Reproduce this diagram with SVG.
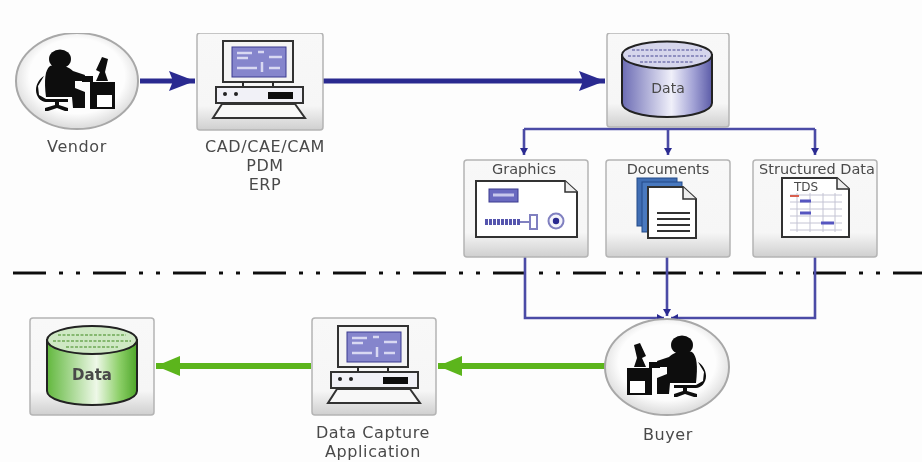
<svg xmlns="http://www.w3.org/2000/svg" width="922" height="462" viewBox="0 0 922 462">
<style>
text{font-family:"DejaVu Sans","Liberation Sans",sans-serif;fill:#4a4a4a;text-anchor:middle;font-size:16px;letter-spacing:.6px}
.box{fill:url(#boxg);stroke:#b4b4b4;stroke-width:1.5}
.oval{fill:url(#ovalg);stroke:#a8a8a8;stroke-width:2}
.blue{fill:none;stroke:#2a2a90;stroke-width:5}
.thin{fill:none;stroke:#4b4ba6;stroke-width:2.6}
.green{fill:none;stroke:#5cb51a;stroke-width:6}
.k{fill:#0c0c0c}
.ln{fill:none;stroke:#2c2c2c;stroke-width:2}
.doc{fill:#fff;stroke:#333;stroke-width:2}
.sm{font-size:14.5px;letter-spacing:0}
</style>
<defs>
<filter id="soft" x="0" y="0" width="100%" height="100%"><feGaussianBlur stdDeviation="0.7"/></filter>
<linearGradient id="boxg" x1="0" y1="0" x2="0" y2="1"><stop offset="0" stop-color="#f8f8f8"/><stop offset="0.75" stop-color="#f6f6f6"/><stop offset="1" stop-color="#cfcfcf"/></linearGradient>
<radialGradient id="ovalg" cx="0.5" cy="0.45" r="0.6"><stop offset="0.65" stop-color="#fdfdfd"/><stop offset="1" stop-color="#cfcfcf"/></radialGradient>
<linearGradient id="cylb" x1="0" y1="0" x2="1" y2="0"><stop offset="0" stop-color="#6c6cb4"/><stop offset="0.55" stop-color="#f0f0fa"/><stop offset="0.8" stop-color="#a0a0d4"/><stop offset="1" stop-color="#5c5ca8"/></linearGradient>
<linearGradient id="cylg" x1="0" y1="0" x2="1" y2="0"><stop offset="0" stop-color="#62b83e"/><stop offset="0.55" stop-color="#eef8e8"/><stop offset="0.8" stop-color="#8ed06a"/><stop offset="1" stop-color="#4ea62a"/></linearGradient>
<marker id="hb" markerUnits="userSpaceOnUse" markerWidth="27" markerHeight="22" refX="26" refY="11" orient="auto"><path d="M0 1 L26 11 L0 21 L4 11Z" fill="#2a2a90"/></marker>
<marker id="hg" markerUnits="userSpaceOnUse" markerWidth="25" markerHeight="22" refX="24" refY="11" orient="auto"><path d="M0 1 L24 11 L0 21Z" fill="#5cb51a"/></marker>
<marker id="ht" markerUnits="userSpaceOnUse" markerWidth="8" markerHeight="8" refX="7" refY="4" orient="auto"><path d="M0 0 L7 4 L0 8Z" fill="#2a2a90"/></marker>
<g id="person">
<ellipse class="k" cx="60" cy="59" rx="11" ry="9.5"/>
<path class="k" d="M50 66 C45 70 44 80 46 97 L72 97 L73 108 L85 108 L85 92 L75 88 L75 81 L84 81 L85 75 L73 71 C68 66 58 63 50 66Z"/>
<path class="k" d="M44 76 L38 86 L39 95 L46 99 L68 99 L68 102 L46 102 C41 102 36 97 36 90 C36 84 40 78 44 76Z"/>
<path class="k" d="M55 100 h4 v5 l9 3 v3 h-3 l-8 -3 l-9 3 h-3 v-3 l10 -3Z"/>
<path class="k" d="M90 82 H115 V109 H90Z M82 76 L93 76 L93 82 L82 82Z"/>
<rect x="97" y="95" width="15" height="12" fill="#fff"/>
<path class="k" d="M102 57 L108 59 L105 72 L108 81 L96 81 L100 72 L96 70Z"/>
</g>
<g id="computer">
<rect x="223" y="41" width="70" height="41" fill="#f4f4f4" stroke="#333" stroke-width="2"/>
<rect x="232" y="47" width="54" height="30" fill="#8585cc" stroke="#3a3a90"/>
<path d="M237 53h15M237 58h11M258 52h6M269 57h13M237 68h20M269 68h11M262 62v10" stroke="#d8d8f2" stroke-width="2.5" fill="none"/>
<path class="ln" d="M243 82v5M273 82v5"/>
<rect x="216" y="87" width="87" height="16" fill="#f1f1f7" stroke="#333" stroke-width="2"/>
<circle cx="225" cy="94" r="2" fill="#222"/><circle cx="236" cy="94" r="2" fill="#222"/>
<rect x="268" y="92" width="25" height="7" fill="#111"/>
<path d="M222 104 H295 L305 118 H213Z" fill="#f8f8f8" stroke="#333" stroke-width="2"/>
</g>
</defs>
<rect width="922" height="462" fill="#fdfdfd"/>
<g filter="url(#soft)">
<g id="separator"><line x1="0" y1="273" x2="922" y2="273" stroke="#111" stroke-width="3" stroke-dasharray="33 13 4 13 4 13" stroke-dashoffset="67"/></g>

<g id="connectors">
<path class="blue" d="M140 81H195" marker-end="url(#hb)"/>
<path class="blue" d="M323 81H605" marker-end="url(#hb)"/>
<path class="thin" d="M524 129H815"/>
<path class="thin" d="M524 129V155" marker-end="url(#ht)"/>
<path class="thin" d="M668 129V155" marker-end="url(#ht)"/>
<path class="thin" d="M815 129V155" marker-end="url(#ht)"/>
<path class="thin" d="M525 257V318H664" marker-end="url(#ht)"/>
<path class="thin" d="M667 257V316" marker-end="url(#ht)"/>
<path class="thin" d="M815 257V318H671" marker-end="url(#ht)"/>
<path class="green" d="M605 366H438" marker-end="url(#hg)"/>
<path class="green" d="M311 366H156" marker-end="url(#hg)"/>
</g>

<g id="vendor">
<ellipse class="oval" cx="77" cy="81" rx="61" ry="48"/>
<use href="#person"/>
<text x="77" y="152">Vendor</text>
</g>
<g id="cad">
<rect class="box" x="197" y="33" width="126" height="97" rx="3"/>
<use href="#computer"/>
<text x="265" y="152">CAD/CAE/CAM</text>
<text x="265" y="171">PDM</text>
<text x="265" y="190">ERP</text>
</g>
<g id="data-top">
<rect class="box" x="607" y="33" width="122" height="94" rx="3"/>
<path d="M622 55V103C622 111 642 117 667 117S712 111 712 103V55Z" fill="url(#cylb)" stroke="#222" stroke-width="2"/>
<ellipse cx="667" cy="55" rx="45" ry="13.5" fill="#d6d6ec" stroke="#222" stroke-width="2"/>
<path d="M632 50h70M628 56h78M640 62h54" stroke="#8f8fc0" stroke-width="2" stroke-dasharray="3 1.5" fill="none"/>
<text x="668" y="93" style="font-size:14px;letter-spacing:0">Data</text>
</g>
<g id="graphics">
<rect class="box" x="464" y="160" width="124" height="97" rx="3"/>
<path class="doc" d="M476 181H565L577 192V237H476Z"/>
<path d="M565 181V192H577" fill="#eee" stroke="#333" stroke-width="1.5"/>
<rect x="489" y="189" width="29" height="13" fill="#6a6ac0" stroke="#3a3a90"/>
<path d="M493 195h21" stroke="#c8c8ec" stroke-width="3"/>
<path d="M485 222H520" stroke="#5555ae" stroke-width="6" stroke-dasharray="3 1"/>
<path d="M520 222H530M530 215H537V229H530Z" fill="none" stroke="#8080c0" stroke-width="2"/>
<circle cx="556" cy="221" r="7.5" fill="#f4f4fb" stroke="#8080c0" stroke-width="2"/>
<circle cx="556" cy="221" r="3.2" fill="#2a2a90"/>
<text class="sm" x="524" y="174">Graphics</text>
</g>
<g id="documents">
<rect class="box" x="606" y="160" width="124" height="97" rx="3"/>
<rect x="637" y="178" width="40" height="48" fill="#3f6eb4" stroke="#234a88"/>
<rect x="642" y="182" width="40" height="50" fill="#4a79bf" stroke="#234a88"/>
<path class="doc" d="M648 187H683L696 199V238H648Z"/>
<path d="M683 187V199H696" fill="#eee" stroke="#333" stroke-width="1.5"/>
<path d="M657 213H690M657 219H690M657 225H690M657 231H690" stroke="#333" stroke-width="2"/>
<text class="sm" x="668" y="174">Documents</text>
</g>
<g id="structured">
<rect class="box" x="753" y="160" width="124" height="97" rx="3"/>
<path class="doc" d="M782 178H837L849 189V237H782Z"/>
<path d="M837 178V189H849" fill="#eee" stroke="#333" stroke-width="1.5"/>
<path d="M790 195H842M790 202H842M790 209H842M790 216H842M790 223H842M790 230H842M797 193V232M810 193V232M823 193V232M835 193V232" stroke="#c4c4d4" stroke-width="1" fill="none"/>
<path d="M790 196h9" stroke="#d86050" stroke-width="2"/>
<path d="M800 201h11M800 213h11M821 223h13" stroke="#5555c0" stroke-width="3"/>
<text x="806" y="191" style="font-size:12px;letter-spacing:0">TDS</text>
<text class="sm" x="817" y="174">Structured Data</text>
</g>
<g id="buyer">
<ellipse class="oval" cx="667" cy="367" rx="62" ry="48"/>
<use href="#person" transform="translate(742 286) scale(-1 1)"/>
<text x="668" y="440">Buyer</text>
</g>
<g id="capture">
<rect class="box" x="312" y="318" width="124" height="97" rx="3"/>
<use href="#computer" transform="translate(115 285)"/>
<text x="373" y="438">Data Capture</text>
<text x="373" y="457">Application</text>
</g>
<g id="data-bottom">
<rect class="box" x="30" y="318" width="124" height="97" rx="3"/>
<path d="M47 340V391C47 399 67 405 92 405S137 399 137 391V340Z" fill="url(#cylg)" stroke="#222" stroke-width="2"/>
<ellipse cx="92" cy="340" rx="45" ry="14" fill="#cfe8c4" stroke="#222" stroke-width="2"/>
<path d="M58 335h68M53 341h78M66 347h52" stroke="#86b870" stroke-width="2" stroke-dasharray="3 1.5" fill="none"/>
<text x="92" y="380" style="font-size:15px;font-weight:bold;letter-spacing:0">Data</text>
</g>
</g>
</svg>
